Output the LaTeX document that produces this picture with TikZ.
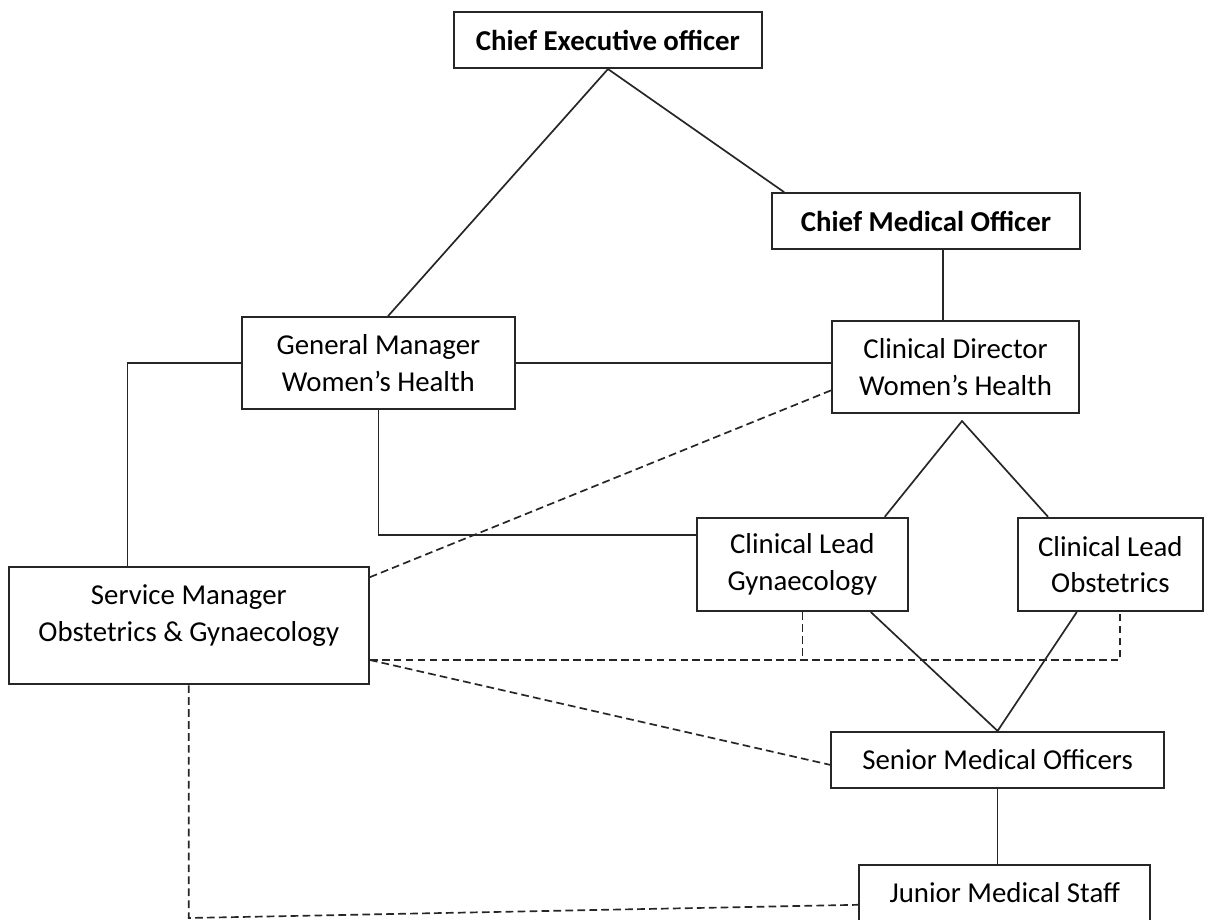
\documentclass[tikz,border=0pt]{standalone}
\usepackage{fontspec}
\setmainfont{Carlito}
\usetikzlibrary{positioning}

\begin{document}
\begin{tikzpicture}[node distance=4cm,
    block/.style={rectangle, draw=black!85, line width=1.5pt, align=center, font=\fontsize{20.5}{26}\selectfont, inner sep=2pt},
    head/.style={block, font=\fontsize{20.5}{26}\selectfont\bfseries, minimum width=7.7cm, minimum height=1.4cm},
    link/.style={draw=black!85, line width=1.2pt},
    dashlink/.style={link, dash pattern=on 5.5pt off 3pt}]

    \useasboundingbox[fill=white] (-15.2,1.0) rectangle (15.1,-22.0);

    % management line
    \node[head] (ceo) {Chief Executive officer};
    \node[head, below of=ceo, xshift=7.95cm, yshift=-0.53cm] (cmo) {Chief Medical Officer};
    \node[block, minimum width=6.18cm, minimum height=2.3cm, below of=cmo, xshift=0.74cm, yshift=0.35cm] (cd) {Clinical Director\\Women’s Health};
    \node[block, minimum width=6.83cm, minimum height=2.3cm, left of=cd, xshift=-10.43cm, yshift=0.1cm] (gm) {General Manager\\Women’s Health};
    \node[block, minimum width=9cm, minimum height=2.93cm, text depth=17.5pt, below of=gm, xshift=-4.74cm, yshift=-2.56cm] (sm) {Service Manager\\Obstetrics \& Gynaecology};

    % clinical line
    \node[block, minimum width=5.28cm, minimum height=2.33cm, below of=cd, xshift=-3.83cm, yshift=-0.93cm] (clg) {Clinical Lead\\Gynaecology};
    \node[block, minimum width=4.63cm, minimum height=2.33cm, right of=clg, xshift=3.7cm] (clo) {Clinical Lead\\Obstetrics};
    \node[block, minimum width=8.33cm, minimum height=1.4cm, below of=clg, xshift=4.88cm, yshift=-0.89cm] (smo) {Senior Medical Officers};
    \node[block, minimum width=7.28cm, minimum height=1.4cm, below of=smo, xshift=0.18cm, yshift=0.68cm] (jms) {Junior Medical Staff};

    \coordinate (cdfoot) at ([shift={(0.16cm,-0.17cm)}]cd.south);
    \coordinate (smtie) at ([yshift=-0.86cm]sm.east);
    \coordinate (smfoot) at (sm.south |- 0,-21.95);

    \draw[link] (ceo.south) -- ([xshift=0.24cm]gm.north);
    \draw[link] (ceo.south) -- ([xshift=0.33cm]cmo.north west);
    \draw[link] ([xshift=0.43cm]cmo.south) -- ([xshift=0.43cm]cmo.south |- cd.north);
    \draw[link] (gm.east) -- (gm.east -| cd.west);
    \draw[link] (gm.west) -| ([xshift=-1.53cm]sm.north);
    \draw[link] (gm.south) |- ([yshift=0.74cm]clg.west);
    \draw[link] ([xshift=2.06cm]clg.north) -- (cdfoot) -- ([xshift=-1.56cm]clo.north);
    \draw[link] ([xshift=1.71cm]clg.south) -- (smo.north) -- ([xshift=-0.84cm]clo.south);
    \draw[link] (smo.south) -- (smo.south |- jms.north);

    % dotted reporting
    \draw[dashlink] ([yshift=1.21cm]sm.east) -- ([yshift=-0.58cm]cd.west);
    \draw[dashlink] (smtie) -| ([xshift=0.24cm]clo.south);
    \draw[dashlink] (clg.south) -- (clg.south |- smtie);
    \draw[dashlink] (smtie) -- ([yshift=-0.12cm]smo.west);
    \draw[dashlink] (sm.south) -- (smfoot) -- ([yshift=-0.3cm]jms.west);
\end{tikzpicture}
\end{document}
